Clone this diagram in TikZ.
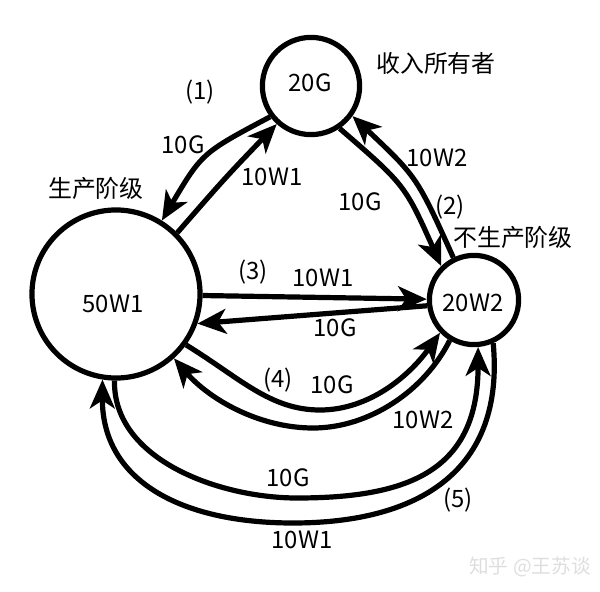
\documentclass[tikz,border=0pt]{standalone}
\usepackage{fontspec}
\newfontfamily\cjk{Noto Sans CJK SC}
\usetikzlibrary{arrows.meta}
\begin{document}
\begin{tikzpicture}[x=0.025cm,y=-0.025cm,
  state/.style={circle,draw,line width=0.13cm,inner sep=0pt},
  flow/.style={line width=0.13cm,-{Stealth[length=0.72cm,width=0.62cm,inset=0.2cm]}},
  lbl/.style={font=\cjk\fontsize{17}{20}\selectfont,inner sep=0pt},
  wm/.style={font=\cjk\fontsize{14}{16}\selectfont,text=black!13,inner sep=0pt}]
\useasboundingbox (0,0) rectangle (600,592);
% states
\node[state,minimum size=2.43cm] (g) at (311,86) {};
\node[state,minimum size=4.2cm] (p) at (116,294) {};
\node[state,minimum size=2.23cm] (s) at (474,300) {};
\node[lbl] (tg) at (310,83) {20G};
\node[lbl] (tp) at (113,304) {50W1};
\node[lbl] (ts) at (473,303) {20W2};
% (1)
\draw[flow] (g.217) .. controls (202,153) .. (p.58);
\draw[flow] (p.45) .. controls (225,178) .. (g.228);
% (2)
\draw[flow] (g.304) .. controls (405,185) .. (s.134);
\draw[flow] (s.116) .. controls (417,177) .. (g.324);
% (3)
\draw[flow] (p.-1) -- (s.179);
\draw[flow] (s.187) -- (p.340);
% (4)
\draw[flow] (p.-36) .. controls (240,378) and (270,410) .. (320,410)
  .. controls (370,410) and (410,375) .. (s.224);
\draw[flow] (s.239) .. controls (425,390) and (370,428) .. (313,428)
  .. controls (260,428) and (210,400) .. (p.312);
% (5)
\draw[flow] (p.269) .. controls (113,460) and (220,498) .. (297,498)
  .. controls (410,498) and (478,470) .. (s.275);
\draw[flow] (s.294) .. controls (505,470) and (420,523) .. (293,523)
  .. controls (180,523) and (102,480) .. (p.261);
% labels
\node[lbl] (l0) at (436,63) {收入所有者};
\node[lbl] (l1) at (200,92) {(1)};
\node[lbl] (l2) at (183,145) {10G};
\node[lbl] (l3) at (272,177) {10W1};
\node[lbl] (l4) at (96,188) {生产阶级};
\node[lbl] (l5) at (437,158) {10W2};
\node[lbl] (l6) at (360,202) {10G};
\node[lbl] (l7) at (450,207) {(2)};
\node[lbl] (l8) at (513,237) {不生产阶级};
\node[lbl] (l9) at (253,272) {(3)};
\node[lbl] (l10) at (323,278) {10W1};
\node[lbl] (l11) at (335,328) {10G};
\node[lbl] (l12) at (278,380) {(4)};
\node[lbl] (l13) at (332,385) {10G};
\node[lbl] (l14) at (423,420) {10W2};
\node[lbl] (l15) at (288,478) {10G};
\node[lbl] (l16) at (458,500) {(5)};
\node[lbl] (l17) at (302,540) {10W1};
\node[wm] (wm) at (530,567) {知乎 @王苏谈};
\end{tikzpicture}
\end{document}
